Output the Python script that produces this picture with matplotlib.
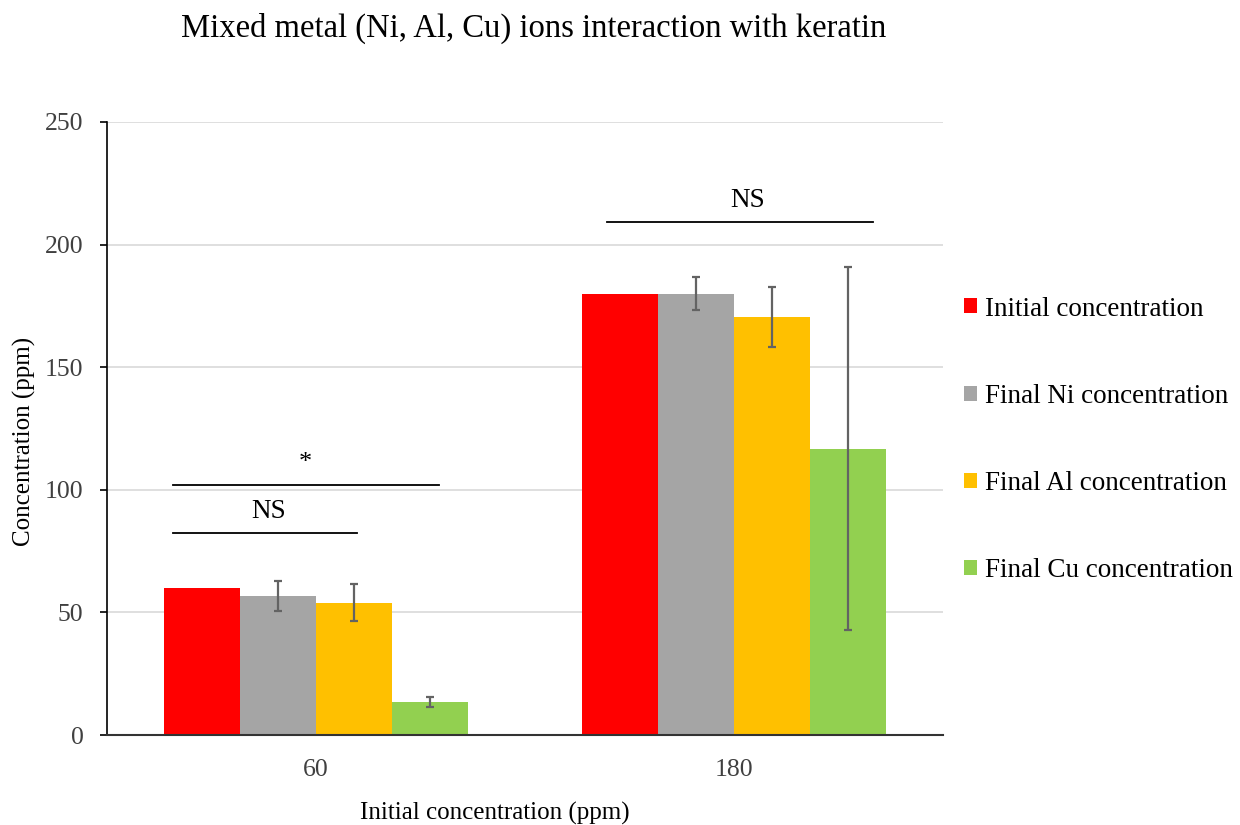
import matplotlib
matplotlib.use("Agg")
import matplotlib.pyplot as plt
import numpy as np
from matplotlib.patches import Patch

categories = ["60", "180"]
series_names = ["Initial concentration", "Final Ni concentration",
                "Final Al concentration", "Final Cu concentration"]
initial = [60.0, 180.0]
final_ni = [56.8, 180.0]
final_al = [54.0, 170.5]
final_cu = [13.6, 116.8]
err_initial = [0.0, 0.0]
err_ni = [6.2, 6.7]
err_al = [7.7, 12.2]
err_cu = [2.0, 74.0]
colors = ["#FF0000", "#A5A5A5", "#FFC000", "#92D050"]

values = [initial, final_ni, final_al, final_cu]
errors = [err_initial, err_ni, err_al, err_cu]

plt.rcParams['font.family'] = ['Liberation Serif', 'DejaVu Serif']

fig = plt.figure(figsize=(12.4, 8.25), dpi=100)
ax = fig.add_axes([107/1240, 90/825, 836/1240, 613/825])

x = np.arange(len(categories))
width = 0.182
offsets = (np.arange(4) - 1.5) * width
for i in range(4):
    err = errors[i]
    has_err = any(e > 0 for e in err)
    ax.bar(x + offsets[i], values[i], width, color=colors[i], zorder=2,
           label=series_names[i])
    if has_err:
        ax.errorbar(x + offsets[i], values[i], yerr=err, fmt='none',
                    ecolor='#636363', elinewidth=1.6, capsize=3, capthick=1.6,
                    zorder=3)

ax.set_xlim(-0.5, 1.5)
ax.set_ylim(0, 250)
ax.set_yticks(np.arange(0, 251, 50))
ax.set_xticks(x)
ax.set_xticklabels(categories)
ax.grid(axis='y', color='#D9D9D9', linewidth=1.2, zorder=0)
ax.set_axisbelow(True)
for s in ['top', 'right']:
    ax.spines[s].set_visible(False)
ax.spines['left'].set_color('black')
ax.spines['bottom'].set_color('#333333')
ax.spines['left'].set_linewidth(1.2)
ax.spines['bottom'].set_linewidth(1.5)
ax.tick_params(axis='y', labelsize=18.5, length=5, width=1.2, direction='out', pad=12,
               colors='black', labelcolor='#404040')
ax.tick_params(axis='x', labelsize=18.5, length=0, pad=17, labelcolor='#404040')

# significance annotations
sig_lines = [(-0.342, 0.294, 102.0), (-0.342, 0.097, 82.4), (0.696, 1.333, 209.1)]
for x0, x1, yv in sig_lines:
    ax.plot([x0, x1], [yv, yv], color='black', linewidth=1.3, zorder=4, clip_on=False)
ax.text(-0.025, 106.5, "*", ha='center', va='bottom', fontsize=19)
ax.text(-0.113, 86.0, "NS", ha='center', va='bottom', fontsize=19.5)
ax.text(1.033, 213.0, "NS", ha='center', va='bottom', fontsize=19.5)

fig.text(24/1240, 1 - 441/825, "Concentration (ppm)", rotation=90, ha='center', va='center',
         fontsize=18)
fig.text(495/1240, 12/825, "Initial concentration (ppm)", ha='center', va='center', fontsize=18)
fig.text(534/1240, 1 - 28/825, "Mixed metal (Ni, Al, Cu) ions interaction with keratin",
         ha='center', va='center', fontsize=23.5)

handles = [Patch(facecolor=c, edgecolor='none') for c in colors]
fig.legend(handles, series_names, loc='center left',
           bbox_to_anchor=(964/1240, (825-440)/825), frameon=False,
           fontsize=19.5, handlelength=0.48, handleheight=0.48, handletextpad=0.3,
           labelspacing=2.3, borderpad=0, borderaxespad=0)

fig.savefig("out.png", dpi=100)
